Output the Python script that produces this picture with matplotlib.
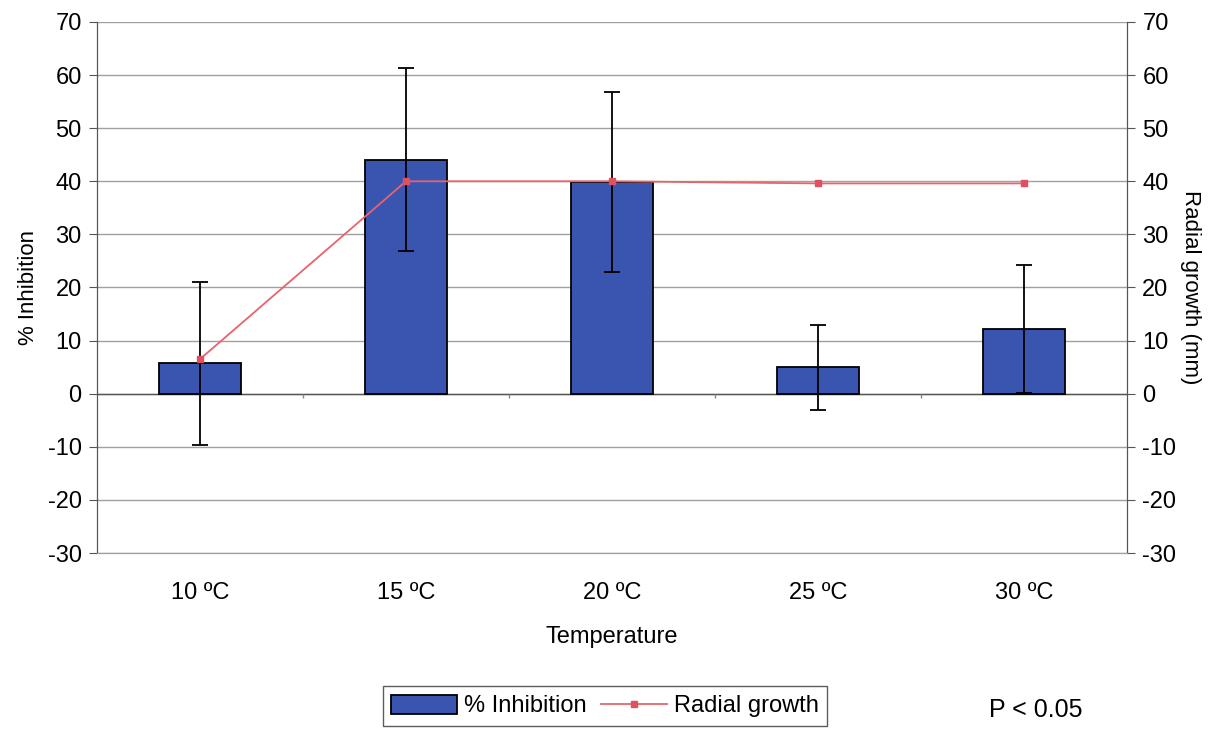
import numpy as np
import matplotlib.pyplot as plt

plt.rcParams['font.family'] = ['Liberation Sans', 'DejaVu Sans']
plt.rcParams['axes.unicode_minus'] = False

temps = ['10 ºC', '15 ºC', '20 ºC', '25 ºC', '30 ºC']
inhibition = [5.7, 44.1, 39.9, 5.0, 12.2]
inhibition_err = [15.4, 17.2, 17.0, 8.0, 12.0]
radial_growth = [6.5, 40.0, 40.0, 39.6, 39.6]

x = np.arange(len(temps))

fig = plt.figure(figsize=(12.21, 7.32), dpi=100)
ax = fig.add_axes([0.0794, 0.2445, 0.8436, 0.7255])
ax2 = ax.twinx()

grid_color = '#a0a0a0'
spine_color = '#555555'

ax.set_ylim(-30, 70)
ax.set_yticks(np.arange(-30, 71, 10))
ax.set_xlim(-0.5, len(temps) - 0.5)
ax.yaxis.grid(True, color=grid_color, lw=1)
ax.set_axisbelow(True)

bars = ax.bar(x, inhibition, width=0.4, color='#3a55b0', edgecolor='black', lw=1.3,
              label='% Inhibition', zorder=2)
ax.errorbar(x, inhibition, yerr=inhibition_err, fmt='none', ecolor='black',
            elinewidth=1.3, capsize=6, capthick=1.3, zorder=3)

# category axis sits on the zero line with ticks between categories
ax.axhline(0, color='#555555', lw=1, zorder=1.5)
bounds = np.arange(0.5, len(temps) - 1)
ax.vlines(bounds, -0.8, 0, color='#888888', lw=1, zorder=1.5)

ax2.set_ylim(-30, 70)
ax2.set_yticks(np.arange(-30, 71, 10))
line, = ax2.plot(x, radial_growth, color='#e8636b', lw=1.3, marker='s', markersize=4,
                 markerfacecolor='#e05060', markeredgecolor='#e05060', label='Radial growth',
                 zorder=4)

ax.set_xticks(x)
ax.set_xticklabels(temps, fontsize=17)
ax.tick_params(axis='x', length=0, pad=21)
for a in (ax, ax2):
    a.tick_params(axis='y', labelsize=17, length=6, color=spine_color, pad=5)
    a.spines['top'].set_visible(False)
    a.spines['bottom'].set_color(grid_color)
    for s in ('left', 'right'):
        a.spines[s].set_color(spine_color)

ax.set_xlabel('Temperature', fontsize=17, labelpad=16)
ax.set_ylabel('% Inhibition', fontsize=16, labelpad=6)
ax2.set_ylabel('Radial growth (mm)', fontsize=16, rotation=-90, labelpad=18)

leg = fig.legend([bars, line], ['% Inhibition', 'Radial growth'], loc='center',
                 bbox_to_anchor=(0.4955, 0.0355), ncol=2, fontsize=17, frameon=True,
                 fancybox=False, edgecolor='#333333', handlelength=2.8, handleheight=0.9,
                 handletextpad=0.3, columnspacing=0.6, borderpad=0.35)
leg.get_frame().set_linewidth(1)

fig.text(0.848, 0.030, 'P < 0.05', fontsize=18, ha='center', va='center')

fig.savefig('out.png', dpi=100)
